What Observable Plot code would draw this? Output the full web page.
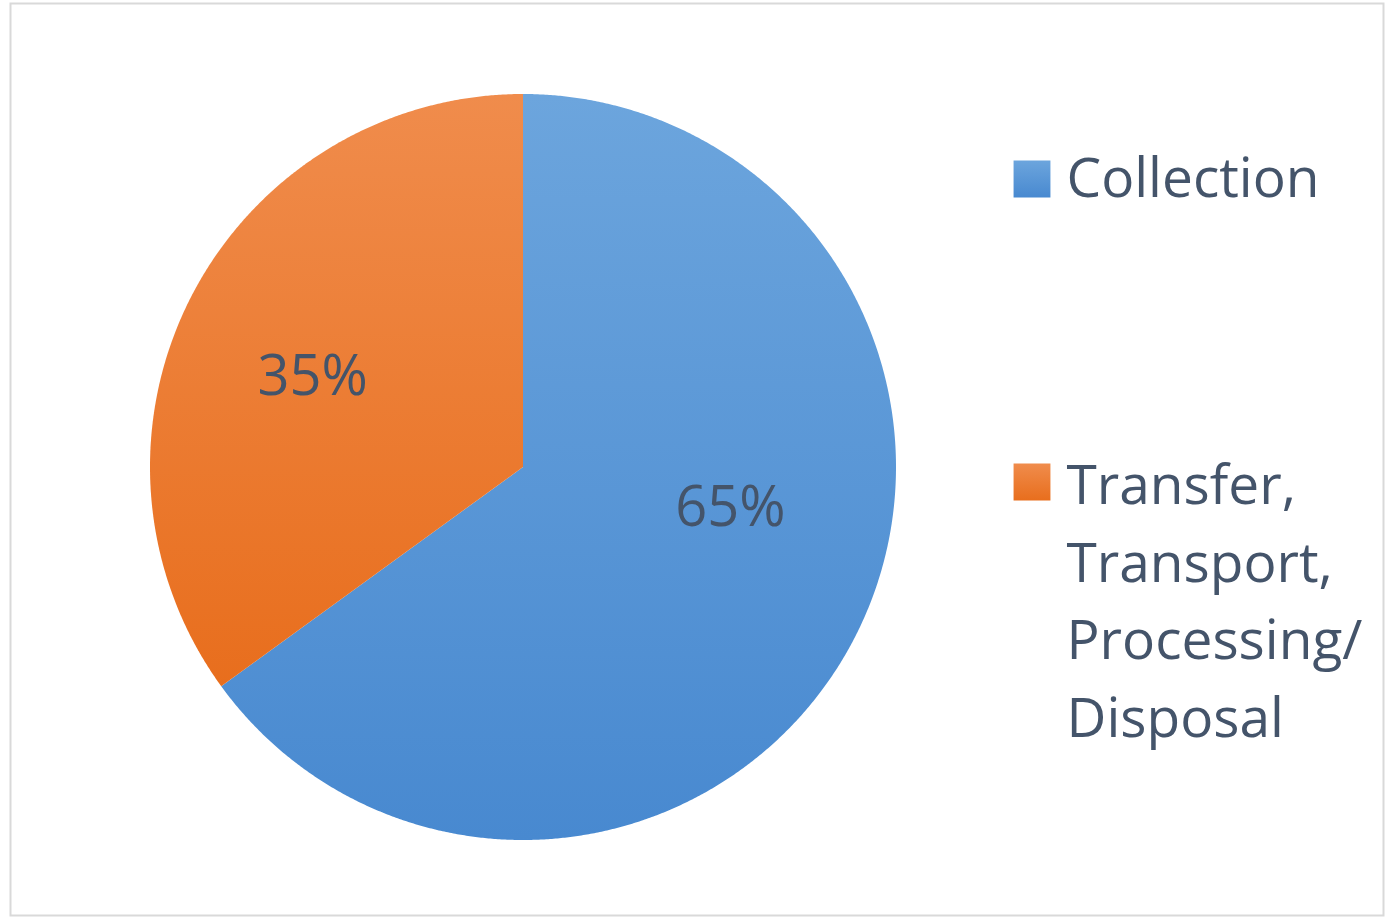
<!DOCTYPE html>
<html>
<head>
<meta charset="utf-8">
<script src="https://cdn.jsdelivr.net/npm/d3@7"></script>
<script src="https://cdn.jsdelivr.net/npm/@observablehq/plot@0.6"></script>
<style>
  html, body { margin: 0; padding: 0; background: #fff; }
  svg { display: block; }
</style>
</head>
<body>
<div id="chart"></div>
<script>
// ---- data ----
const categories = ["Collection", "Transfer, Transport, Processing/ Disposal"];
const legendLabels = ["Collection", "Transfer,\nTransport,\nProcessing/\nDisposal"];
const shares = [65, 35];
const valueLabels = ["65%", "35%"];
const colors = ["url(#gBlue)", "url(#gOrange)"];

// ---- geometry derived from data (angles clockwise from 12 o'clock) ----
const total = d3.sum(shares);
let acc = 0;
const slices = shares.map((v, i) => {
  const a0 = acc / total * 2 * Math.PI;
  acc += v;
  const a1 = acc / total * 2 * Math.PI;
  return {category: categories[i], a0, a1, label: valueLabels[i]};
});
const pts = [];
for (const s of slices) {
  pts.push({category: s.category, x: 0, y: 0});
  const n = Math.max(2, Math.ceil((s.a1 - s.a0) / 0.005));
  for (let k = 0; k <= n; k++) {
    const a = s.a0 + (s.a1 - s.a0) * k / n;
    pts.push({category: s.category, x: Math.sin(a), y: Math.cos(a)});
  }
  pts.push({category: s.category, x: 0, y: 0});
}
const labelR = 0.6;
const labelPts = slices.map(s => {
  const m = (s.a0 + s.a1) / 2;
  return {category: s.category, label: s.label, x: labelR * Math.sin(m), y: labelR * Math.cos(m)};
});

const cx = 522.5, cy = 466.5, R = 373;
const font = "Open Sans, sans-serif";
const textColor = "#44546A";

const defs = () => {
  const d = d3.create("svg:defs");
  const g1 = d.append("linearGradient").attr("id", "gBlue").attr("x1", 0).attr("y1", 0).attr("x2", 0).attr("y2", 1);
  g1.append("stop").attr("offset", "0%").attr("stop-color", "#6CA5DD");
  g1.append("stop").attr("offset", "100%").attr("stop-color", "#4889D0");
  const g2 = d.append("linearGradient").attr("id", "gOrange").attr("x1", 0).attr("y1", 0).attr("x2", 0).attr("y2", 1);
  g2.append("stop").attr("offset", "0%").attr("stop-color", "#F08C4C");
  g2.append("stop").attr("offset", "100%").attr("stop-color", "#E86E1D");
  return d.node();
};

const chart = Plot.plot({
  width: 1387,
  height: 920,
  marginLeft: 10, marginTop: 3, marginRight: 4, marginBottom: 5,
  x: {domain: [-1, 1], range: [cx - R, cx + R], axis: null},
  y: {domain: [-1, 1], range: [cy + R, cy - R], axis: null},
  color: {domain: categories, range: colors},
  style: {fontFamily: font, background: "#fff"},
  marks: [
    defs,
    Plot.frame({stroke: "#d9d9d9", strokeWidth: 2}),
    Plot.line(pts, {x: "x", y: "y", z: "category", fill: "category", stroke: "none", curve: "linear"}),
    Plot.text(labelPts.slice(0, 1), {x: "x", y: "y", text: "label", fill: textColor, fontSize: 56, dx: 8, dy: -61}),
    Plot.text(labelPts.slice(1, 2), {x: "x", y: "y", text: "label", fill: textColor, fontSize: 56, dx: -11, dy: 12}),
    // legend
    Plot.dot([categories[0]], {frameAnchor: "top-left", dx: 1021.5, dy: 175.5, symbol: "square", r: 20.8, fill: d => d, stroke: "none"}),
    Plot.dot([categories[1]], {frameAnchor: "top-left", dx: 1021.5, dy: 478.5, symbol: "square", r: 20.8, fill: d => d, stroke: "none"}),
    Plot.text([legendLabels[0]], {frameAnchor: "top-left", dx: 1056, dy: 176, text: d => d, textAnchor: "start", lineAnchor: "middle", fill: textColor, fontSize: 55}),
    Plot.text([legendLabels[1]], {frameAnchor: "top-left", dx: 1056, dy: 592, text: d => d, textAnchor: "start", lineAnchor: "middle", lineHeight: 1.41, fill: textColor, fontSize: 55})
  ]
});
document.getElementById("chart").appendChild(chart);
</script>
</body>
</html>
